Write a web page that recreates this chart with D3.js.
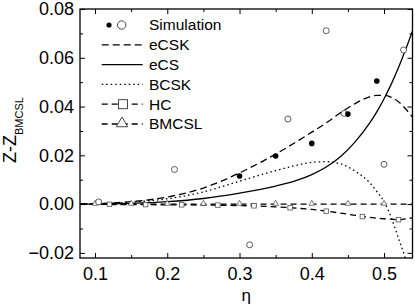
<!DOCTYPE html>
<html>
<head>
<meta charset="utf-8">
<script src="https://cdn.jsdelivr.net/npm/d3@7"></script>
<style>
  body { margin: 0; background: #fff; }
  svg { display: block; font-family: "Liberation Sans", Arial, sans-serif; }
</style>
</head>
<body>
<script>
// Chart setup
const w = 415;
const h = 305;
const padL = 80, padR = 412.5, padT = 9, padB = 258;

// Data
const etaGrid = [0.08, 0.1, 0.15, 0.2, 0.25, 0.3, 0.35, 0.38, 0.4, 0.42, 0.44, 0.46, 0.48, 0.49, 0.5, 0.51, 0.52, 0.53, 0.54];
const eCSK = [0, 0.0002, 0.001, 0.0029, 0.0066, 0.0128, 0.0205, 0.0258, 0.0295, 0.0333, 0.0375, 0.0412, 0.044, 0.0446, 0.0446, 0.0438, 0.042, 0.039, 0.0355];
const eCS = [0, 0, 0.0003, 0.001, 0.0023, 0.0045, 0.0074, 0.0098, 0.0121, 0.0152, 0.0195, 0.0255, 0.0332, 0.0378, 0.0432, 0.0492, 0.056, 0.0635, 0.0715];
const BCSK = [0, 0.0001, 0.0008, 0.0022, 0.005, 0.0094, 0.0137, 0.016, 0.0171, 0.0174, 0.0165, 0.0135, 0.0088, 0.0052, 0.001, -0.0055, -0.014, -0.0225, -0.032];
const HC = [0, -0.0001, -0.0002, -0.0003, -0.0004, -0.0006, -0.0011, -0.0017, -0.0022, -0.0029, -0.0037, -0.0046, -0.0054, -0.0058, -0.006, -0.0062, -0.0064, -0.0061, -0.0055];
const BMCSL = etaGrid.map(() => 0);

const hcMarkEta = [0.12, 0.17, 0.22, 0.27, 0.32, 0.37, 0.42, 0.47, 0.52];
const hcMarkVal = [-0.0001, -0.0002, -0.0003, -0.0004, -0.0007, -0.0015, -0.0029, -0.0051, -0.0064];
const bmMarkEta = [0.1, 0.15, 0.2, 0.25, 0.3, 0.35, 0.4, 0.45, 0.5];

const simFilledEta = [0.30, 0.35, 0.40, 0.45, 0.49];
const simFilledVal = [0.0115, 0.0197, 0.0249, 0.0369, 0.0505];
const simOpenEta = [0.105, 0.21, 0.314, 0.367, 0.42, 0.445, 0.50, 0.527];
const simOpenVal = [0.0009, 0.0142, -0.0167, 0.0349, 0.0711, 0.0372, 0.0163, 0.0632];

const xTicks = [0.1, 0.2, 0.3, 0.4, 0.5];
const xMinor = [0.15, 0.25, 0.35, 0.45];
const yTicks = [-0.02, 0, 0.02, 0.04, 0.06, 0.08];
const yMinor = [-0.01, 0.01, 0.03, 0.05, 0.07];
const legendNames = ["Simulation", "eCSK", "eCS", "BCSK", "HC", "BMCSL"];

const svg = d3.select("body").append("svg")
  .attr("width", w)
  .attr("height", h);

const x = d3.scaleLinear().domain([0.0792, 0.5394]).range([padL, padR]);
const y = d3.scaleLinear().domain([-0.0221, 0.08]).range([padB, padT]);

// clip for curves
svg.append("clipPath").attr("id", "clip")
  .append("rect").attr("x", padL).attr("y", padT)
  .attr("width", padR - padL).attr("height", padB - padT);

const plot = svg.append("g").attr("clip-path", "url(#clip)");

const line = d3.line()
  .x(d => x(d[0]))
  .y(d => y(d[1]))
  .curve(d3.curveMonotoneX);

const series = [
  { vals: eCSK, dash: "7,4" },
  { vals: eCS, dash: null },
  { vals: BCSK, dash: "1.5,3" },
  { vals: HC, dash: "6,4" },
  { vals: BMCSL, dash: "6,4" }
];

series.forEach(s => {
  plot.append("path")
    .datum(etaGrid.map((e, i) => [e, s.vals[i]]))
    .attr("d", line)
    .attr("fill", "none")
    .attr("stroke", "#000")
    .attr("stroke-width", 1.3)
    .attr("stroke-dasharray", s.dash);
});

// markers on HC / BMCSL
const sq = 4.5;
plot.selectAll(".hcm")
  .data(hcMarkEta)
  .join("rect")
  .attr("x", (d) => x(d) - sq / 2)
  .attr("y", (d, i) => y(hcMarkVal[i]) - sq / 2)
  .attr("width", sq).attr("height", sq)
  .attr("fill", "#fff").attr("stroke", "#555").attr("stroke-width", 0.8);

const tri = d3.symbol().type(d3.symbolTriangle).size(14);
plot.selectAll(".bmm")
  .data(bmMarkEta)
  .join("path")
  .attr("d", tri)
  .attr("transform", d => `translate(${x(d)},${y(0) - 0.5})`)
  .attr("fill", "#fff").attr("stroke", "#555").attr("stroke-width", 0.8);

// simulation points
plot.selectAll(".open")
  .data(simOpenEta)
  .join("circle")
  .attr("cx", d => x(d))
  .attr("cy", (d, i) => y(simOpenVal[i]))
  .attr("r", 3)
  .attr("fill", "#fff").attr("stroke", "#333").attr("stroke-width", 0.8);

plot.selectAll(".filled")
  .data(simFilledEta)
  .join("circle")
  .attr("cx", d => x(d))
  .attr("cy", (d, i) => y(simFilledVal[i]))
  .attr("r", 2.8)
  .attr("fill", "#000");

// Axes (ticks inward)
const axisStyle = g => {
  g.select(".domain").remove();
  g.selectAll("line").attr("stroke", "#000").attr("stroke-width", 1);
  g.selectAll("text").attr("fill", "#000").style("font-size", "18px")
    .style("font-family", "'Liberation Sans', Arial, sans-serif");
};

svg.append("g").attr("transform", `translate(0,${padB})`)
  .call(d3.axisBottom(x).tickValues(xTicks).tickSize(-5).tickPadding(9).tickFormat(d3.format(".1f")))
  .call(axisStyle);
svg.append("g").attr("transform", `translate(0,${padB})`)
  .call(d3.axisBottom(x).tickValues(xMinor).tickSize(-3).tickFormat(""))
  .call(axisStyle);
svg.append("g").attr("transform", `translate(0,${padT})`)
  .call(d3.axisTop(x).tickValues(xTicks).tickSize(-5).tickFormat(""))
  .call(axisStyle);
svg.append("g").attr("transform", `translate(0,${padT})`)
  .call(d3.axisTop(x).tickValues(xMinor).tickSize(-3).tickFormat(""))
  .call(axisStyle);

svg.append("g").attr("transform", `translate(${padL},0)`)
  .call(d3.axisLeft(y).tickValues(yTicks).tickSize(-5).tickPadding(6).tickFormat(d3.format(".2f")))
  .call(axisStyle);
svg.append("g").attr("transform", `translate(${padL},0)`)
  .call(d3.axisLeft(y).tickValues(yMinor).tickSize(-3).tickFormat(""))
  .call(axisStyle);
svg.append("g").attr("transform", `translate(${padR},0)`)
  .call(d3.axisRight(y).tickValues(yTicks).tickSize(-5).tickFormat(""))
  .call(axisStyle);
svg.append("g").attr("transform", `translate(${padR},0)`)
  .call(d3.axisRight(y).tickValues(yMinor).tickSize(-3).tickFormat(""))
  .call(axisStyle);

// frame
svg.append("rect")
  .attr("x", padL).attr("y", padT)
  .attr("width", padR - padL).attr("height", padB - padT)
  .attr("fill", "none").attr("stroke", "#000").attr("stroke-width", 1.3);

// axis titles
svg.append("text")
  .attr("x", (padL + padR) / 2).attr("y", 301)
  .attr("text-anchor", "middle")
  .style("font-size", "17px")
  .text("η");

const yt = svg.append("text")
  .attr("transform", "translate(16,163) rotate(-90)")
  .style("font-size", "18px");
yt.append("tspan").text("Z-Z");
yt.append("tspan").attr("dy", 7).style("font-size", "11px").text("BMCSL");

// Legend
const lx0 = 101.7, lx1 = 142.7, ltx = 149, ly0 = 25, ldy = 19.8;
const leg = svg.append("g");
legendNames.forEach((name, i) => {
  const ly = ly0 + i * ldy;
  leg.append("text")
    .attr("x", ltx).attr("y", ly)
    .attr("dy", "0.35em")
    .style("font-size", "15.5px")
    .text(name);
  if (i === 0) {
    leg.append("circle").attr("cx", 109).attr("cy", ly).attr("r", 2.6).attr("fill", "#000");
    leg.append("circle").attr("cx", 121.7).attr("cy", ly).attr("r", 4.2)
      .attr("fill", "#fff").attr("stroke", "#333").attr("stroke-width", 0.9);
    return;
  }
  const s = series[i - 1];
  leg.append("line")
    .attr("x1", lx0).attr("x2", lx1).attr("y1", ly).attr("y2", ly)
    .attr("stroke", "#000").attr("stroke-width", 1.3)
    .attr("stroke-dasharray", s.dash);
  if (name === "HC") {
    leg.append("rect").attr("x", 123 - 4.5).attr("y", ly - 4.5)
      .attr("width", 9).attr("height", 9)
      .attr("fill", "#fff").attr("stroke", "#333").attr("stroke-width", 0.9);
  }
  if (name === "BMCSL") {
    leg.append("path")
      .attr("d", d3.symbol().type(d3.symbolTriangle).size(55))
      .attr("transform", `translate(122,${ly - 0.5})`)
      .attr("fill", "#fff").attr("stroke", "#333").attr("stroke-width", 0.9);
  }
});
</script>
</body>
</html>
